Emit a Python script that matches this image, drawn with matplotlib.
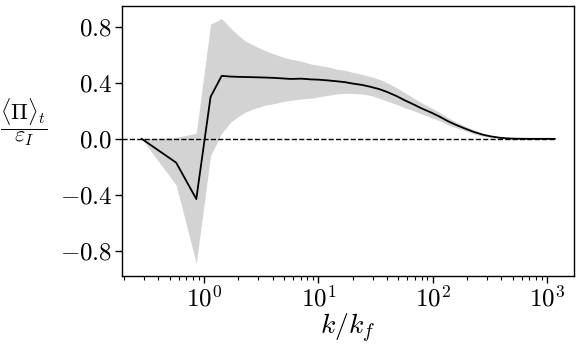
import numpy as np
import matplotlib
matplotlib.use("Agg")
import matplotlib.pyplot as plt
from matplotlib.ticker import FuncFormatter, LogLocator

plt.rcParams['mathtext.fontset'] = 'cm'
plt.rcParams['font.family'] = 'serif'
plt.rcParams['font.serif'] = ['cmr10', 'DejaVu Serif']
plt.rcParams['axes.formatter.use_mathtext'] = True

# wavenumber index and forcing wavenumber
n_index = [1, 2, 3, 4, 5, 6, 7, 8, 10, 12, 14, 17, 20, 25, 30, 35, 42, 50, 60, 70,
           85, 100, 120, 140, 170, 200, 240, 280, 340, 400, 480, 560, 680, 800,
           960, 1120, 1350, 1600, 1900, 2300, 2700, 3200, 3600, 4096]
k_f = 3.5

# time-averaged normalised flux
flux_mean = [0.0, -0.17, -0.43, 0.30, 0.45, 0.445, 0.443, 0.442, 0.44, 0.438, 0.436,
             0.432, 0.428, 0.43, 0.425, 0.423, 0.418, 0.412, 0.405, 0.395, 0.385, 0.372,
             0.355, 0.335, 0.305, 0.275, 0.245, 0.218, 0.188, 0.16, 0.125, 0.10, 0.072,
             0.05, 0.03, 0.018, 0.008, 0.003, 0.001, 0.0, 0.0, 0.0, 0.0, 0.0]
flux_upper = [0.0, 0.01, 0.04, 0.82, 0.86, 0.79, 0.74, 0.70, 0.66, 0.63, 0.61,
              0.585, 0.57, 0.555, 0.535, 0.525, 0.515, 0.50, 0.49, 0.475, 0.46, 0.445,
              0.425, 0.40, 0.365, 0.33, 0.29, 0.258, 0.222, 0.19, 0.15, 0.12, 0.088,
              0.064, 0.04, 0.025, 0.012, 0.005, 0.002, 0.0, 0.0, 0.0, 0.0, 0.0]
flux_lower = [0.0, -0.33, -0.89, -0.12, 0.04, 0.12, 0.16, 0.19, 0.22, 0.24, 0.25,
              0.265, 0.275, 0.285, 0.29, 0.30, 0.31, 0.32, 0.325, 0.325, 0.32, 0.31,
              0.29, 0.27, 0.245, 0.222, 0.20, 0.178, 0.152, 0.13, 0.10, 0.08, 0.056,
              0.036, 0.02, 0.012, 0.004, 0.001, 0.0, 0.0, 0.0, 0.0, 0.0, 0.0]

y_ticks = [-0.8, -0.4, 0.0, 0.4, 0.8]
XMIN, XMAX = 0.192, 1726
YMIN, YMAX = -0.98, 0.95

k = np.array(n_index) / k_f

fig = plt.figure(figsize=(5.81, 3.48), dpi=100)
ax = fig.add_axes([0.210, 0.207, 0.778, 0.776])

ax.fill_between(k, flux_lower, flux_upper, color='#d3d3d3', linewidth=0, zorder=1)
ax.hlines(0, XMIN, k.max(), colors='black', linestyles='--', linewidth=1.0, zorder=2)
ax.plot(k, flux_mean, color='black', linewidth=1.3, zorder=3)

ax.set_xscale('log')
ax.set_xlim(XMIN, XMAX)
ax.set_ylim(YMIN, YMAX)
ax.set_yticks(y_ticks)
ax.yaxis.set_major_formatter(FuncFormatter(lambda v, p: r'$%.1f$' % v))
ax.xaxis.set_minor_locator(LogLocator(base=10, subs=np.arange(2, 10), numticks=20))

ax.tick_params(axis='both', which='major', labelsize=18, length=5, width=1,
               direction='out', pad=2)
ax.tick_params(axis='x', which='minor', length=3, width=0.8, direction='out')
for s in ax.spines.values():
    s.set_linewidth(1.0)

ax.set_xlabel(r'$k/k_f$', fontsize=20, labelpad=0)
ax.set_ylabel(r'$\dfrac{\langle\Pi\rangle_t}{\varepsilon_I}$', fontsize=16, rotation=0,
              labelpad=0, va='center', ha='center')
ax.yaxis.set_label_coords(-0.218, 0.57)

fig.savefig('out.png', dpi=100)
